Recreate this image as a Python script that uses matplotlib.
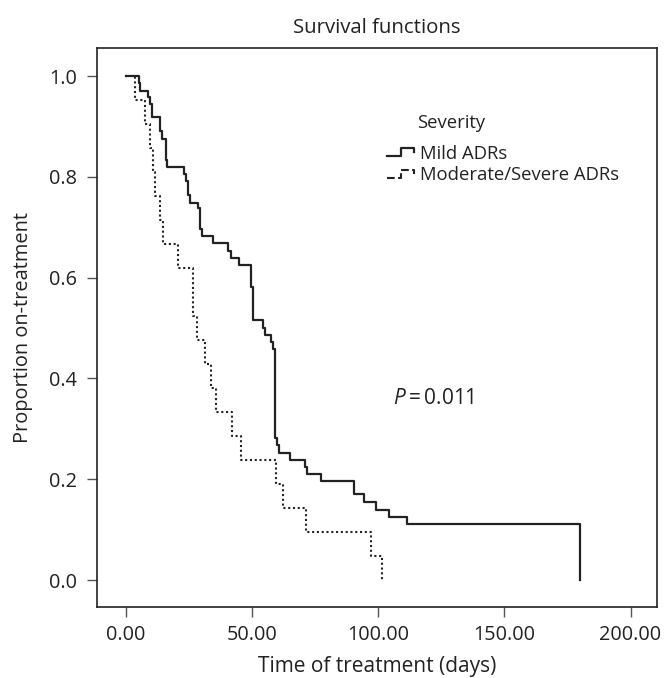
import matplotlib
matplotlib.use('Agg')
import matplotlib.pyplot as plt
from matplotlib.legend_handler import HandlerBase
from matplotlib.lines import Line2D

plt.rcParams['font.family'] = ['Open Sans', 'DejaVu Sans']
plt.rcParams['mathtext.fontset'] = 'custom'
plt.rcParams['mathtext.it'] = 'Open Sans:italic'
plt.rcParams['mathtext.rm'] = 'Open Sans'

# Kaplan-Meier estimates (time in days, proportion after each event)
mild_t = [0, 5.2, 5.9, 9.0, 9.8, 10.5, 13.7, 14.6, 16.0, 16.6, 23.0, 23.8, 24.6, 25.5,
          28.8, 29.5, 30.3, 34.7, 40.6, 41.9, 44.8, 49.8, 50.4, 54.5, 55.4, 57.7, 58.4,
          59.3, 60.0, 60.9, 65.0, 70.9, 71.8, 77.4, 90.6, 94.5, 99.1, 104.3, 111.3, 180.0]
mild_s = [1.0, 0.987, 0.970, 0.959, 0.945, 0.918, 0.890, 0.875, 0.833, 0.820, 0.805, 0.792,
          0.764, 0.749, 0.739, 0.696, 0.682, 0.668, 0.653, 0.639, 0.625, 0.582, 0.515, 0.500,
          0.486, 0.472, 0.459, 0.281, 0.267, 0.252, 0.238, 0.224, 0.211, 0.197, 0.170, 0.154,
          0.139, 0.125, 0.112, 0.0]

mod_t = [0, 3.9, 7.8, 9.8, 10.9, 11.7, 13.7, 14.8, 20.9, 26.8, 28.4, 31.5, 33.7, 35.8,
         42.0, 45.8, 59.6, 62.3, 71.5, 97.4, 101.4]
mod_s = [1.0, 0.952, 0.905, 0.857, 0.810, 0.762, 0.714, 0.667, 0.619, 0.524, 0.476, 0.429,
         0.381, 0.333, 0.286, 0.238, 0.190, 0.143, 0.095, 0.048, 0.0]

labels = ['Mild ADRs', 'Moderate/Severe ADRs']
x_ticks = [0, 50, 100, 150, 200]
y_ticks = [0.0, 0.2, 0.4, 0.6, 0.8, 1.0]
p_text = '$P$\u2009=\u20090.011'

ink = '#222222'
dotted = (0, (1.0, 1.3))


class StepHandler(HandlerBase):
    # little step-shaped legend key like the SPSS output
    def create_artists(self, legend, orig_handle, xdescent, ydescent,
                       width, height, fontsize, trans):
        x0 = -xdescent
        y0 = -ydescent
        xs = [x0, x0 + 0.5 * width, x0 + 0.5 * width, x0 + width, x0 + width]
        ys = [y0 + 0.2 * height, y0 + 0.2 * height, y0 + 0.8 * height,
              y0 + 0.8 * height, y0 + 0.5 * height]
        ln = Line2D(xs, ys, color=orig_handle.get_color(),
                    linestyle=orig_handle.get_linestyle(),
                    linewidth=orig_handle.get_linewidth(), transform=trans)
        return [ln]


fig = plt.figure(figsize=(6.65, 6.78), dpi=100)
ax = fig.add_axes([0.1459, 0.1047, 0.8421, 0.8245])

l1, = ax.step(mild_t, mild_s, where='post', color=ink, lw=1.6, label=labels[0])
l2, = ax.step(mod_t, mod_s, where='post', color=ink, lw=1.5, linestyle=dotted, label=labels[1])

ax.set_xlim(-11.3, 210.5)
ax.set_ylim(-0.0536, 1.0556)
ax.set_xticks(x_ticks)
ax.set_xticklabels([f'{v:.2f}' for v in x_ticks])
ax.set_yticks(y_ticks)
ax.set_yticklabels([f'{v:.1f}' for v in y_ticks])
ax.tick_params(axis='both', direction='out', length=7.2, width=1, color='#555555',
               labelsize=14.3, labelcolor=ink)
ax.tick_params(axis='y', pad=7)
ax.tick_params(axis='x', pad=6)

for sp in ax.spines.values():
    sp.set_linewidth(1.2)
    sp.set_color(ink)

ax.set_title('Survival functions', fontsize=14.7, color=ink, pad=11)
ax.set_xlabel('Time of treatment (days)', fontsize=15, color=ink, labelpad=8)
ax.set_ylabel('Proportion on-treatment', fontsize=14.4, color=ink, labelpad=12)

leg = ax.legend(handles=[l1, l2], loc='upper left', bbox_to_anchor=(0.505, 0.840),
                frameon=False, fontsize=13.3, handlelength=1.45, handletextpad=0.3,
                labelspacing=0.18, borderaxespad=0,
                handler_map={Line2D: StepHandler()})
for t in leg.get_texts():
    t.set_color(ink)
ax.text(0.571, 0.865, 'Severity', transform=ax.transAxes, fontsize=13.3,
        color=ink, ha='left', va='center')

ax.text(106, 0.36, p_text, fontsize=15, color=ink, ha='left', va='center')

fig.savefig('out.png', dpi=100)
